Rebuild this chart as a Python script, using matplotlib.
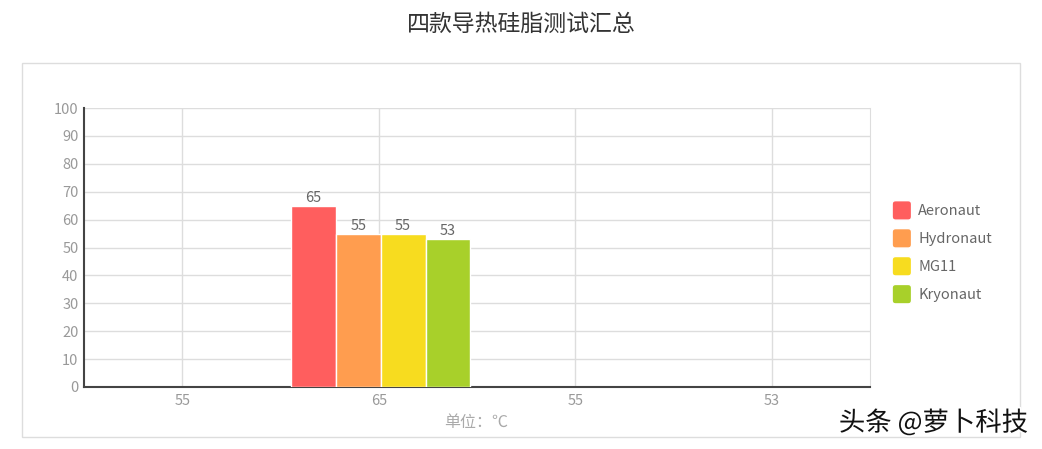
import matplotlib.pyplot as plt
from matplotlib.patches import Rectangle, FancyBboxPatch
from matplotlib.legend_handler import HandlerPatch
import matplotlib.patheffects as pe
import numpy as np

plt.rcParams['font.family'] = ['Noto Sans CJK SC', 'DejaVu Sans']

# data
categories = ['55', '65', '55', '53']
series_names = ['Aeronaut', 'Hydronaut', 'MG11', 'Kryonaut']
series_values = [65, 55, 55, 53]
bar_category = 1
colors = ['#FF5E5E', '#FF9D4F', '#F7DC1F', '#A8D02A']
y_ticks = list(range(0, 101, 10))

W, H = 1042, 449
fig = plt.figure(figsize=(W / 100, H / 100), dpi=100)

# outer frame
fig.patches.append(Rectangle((22 / W, 1 - 437 / H), (1020 - 22) / W, (437 - 63) / H,
                             transform=fig.transFigure, fill=False,
                             edgecolor='#dddddd', linewidth=1))

ax = fig.add_axes([84 / W, 1 - 387 / H, (870 - 84) / W, (387 - 108) / H])
x = np.arange(len(categories))
bw = 0.228
handles = []
for i, (name, val, c) in enumerate(zip(series_names, series_values, colors)):
    pos = bar_category + (i - 1.5) * bw + 0.01
    b = ax.bar(pos, val, width=bw, color=c, edgecolor='white', linewidth=1, zorder=3, label=name)
    handles.append(b.patches[0])
    ax.text(pos, val + 0.3, str(val), ha='center', va='bottom', fontsize=10.5,
            color='#666666', zorder=4)

ax.set_xlim(-0.5, len(categories) - 0.5)
ax.set_ylim(0, 100)
ax.set_xticks(x)
ax.set_xticklabels(categories)
ax.set_yticks(y_ticks)
ax.tick_params(axis='both', length=0, labelsize=10.5, colors='#999999', pad=5)
ax.tick_params(axis='y', pad=4)
ax.grid(True, color='#dddddd', linewidth=1, zorder=0)
ax.set_axisbelow(True)
for s in ['left', 'bottom']:
    ax.spines[s].set_color('#444444')
    ax.spines[s].set_linewidth(1.5)
ax.spines['right'].set_color('#dddddd')
ax.spines['top'].set_visible(False)

fig.text(476 / W, 1 - 423 / H, '单位：℃', ha='center', va='center', fontsize=11.5, color='#aaaaaa')
fig.text(521 / W, 1 - 24 / H, '四款导热硅脂测试汇总', ha='center', va='center', fontsize=16.5, color='#333333')


def rounded_square(legend, orig_handle, xdescent, ydescent, width, height, fontsize):
    s = 14.0  # points, about 19 px
    x0 = -xdescent
    y0 = -ydescent + (height - s) / 2
    return FancyBboxPatch((x0, y0), s, s, boxstyle='round,pad=0,rounding_size=2.5')


leg = fig.legend(handles=handles, labels=series_names, loc='upper left',
                 bbox_to_anchor=(879 / W, 1 - 186 / H),
                 frameon=False, fontsize=10.5, labelcolor='#666666',
                 handlelength=1.35, handleheight=2.0, handletextpad=0.45, labelspacing=0.37,
                 handler_map={Rectangle: HandlerPatch(patch_func=rounded_square)})

fig.text(1028 / W, 1 - 423 / H, '头条 @萝卜科技', ha='right', va='center', fontsize=19, color='#111111',
         path_effects=[pe.withStroke(linewidth=2.5, foreground='white')])

fig.savefig('out.png', dpi=100)
